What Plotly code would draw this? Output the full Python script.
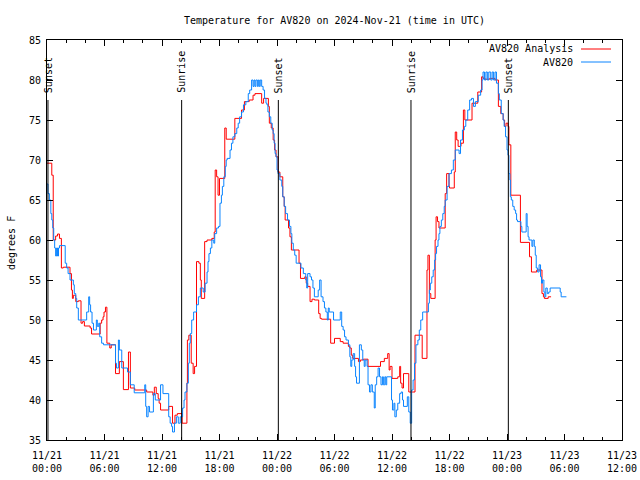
import pandas as pd
import plotly.graph_objects as go

# ---------------- data ----------------
BASE = pd.Timestamp("2024-11-21 00:00")

obs_hours = [0.0, 0.1, 0.25, 0.4, 0.5, 0.6, 0.7, 0.8, 0.9, 1.0, 1.1, 1.2, 1.3, 1.9, 2.05, 2.2, 2.4, 2.75, 2.85, 3.0,
             3.1, 3.27, 4.14, 4.35, 4.45, 4.55, 4.7, 4.85, 5.15, 5.25, 5.4, 5.5, 5.7, 5.9, 7.15, 7.25, 7.45, 7.55, 7.8, 8.4,
             8.7, 9.1, 10.2, 10.3, 10.4, 10.55, 10.7, 11.1, 11.3, 11.85, 12.1, 12.7, 12.85, 13.0, 13.1, 13.3, 13.5, 13.7, 13.9, 14.15,
             14.3, 14.4, 14.6, 14.75, 14.85, 14.95, 15.1, 15.3, 15.6, 15.8, 16.0, 16.3, 16.5, 16.7, 16.8, 16.9, 17.05, 17.2, 17.4, 17.5,
             17.7, 17.9, 18.05, 18.2, 18.3, 18.45, 18.6, 18.7, 18.8, 19.1, 19.25, 19.4, 19.6, 19.8, 19.95, 20.1, 20.3, 20.5, 20.75, 21.0,
             21.15, 21.35, 21.5, 21.6, 21.7, 21.8, 21.95, 22.05, 22.15, 22.25, 22.4, 22.55, 22.7, 22.85, 22.95, 23.05, 23.2, 23.35, 23.5, 23.6,
             23.7, 23.8, 23.9, 24.0, 24.1, 24.3, 24.5, 24.6, 24.75, 24.9, 25.1, 25.3, 25.45, 25.55, 25.7, 25.85, 26.0, 26.5, 26.75, 27.0,
             27.1, 27.2, 27.45, 27.6, 27.75, 27.9, 28.3, 28.45, 28.6, 28.8, 28.95, 29.1, 29.25, 29.35, 29.45, 29.9, 30.6, 30.75, 30.9, 31.05,
             31.2, 31.45, 31.6, 31.7, 31.8, 31.95, 32.1, 32.2, 32.3, 32.6, 32.8, 32.95, 33.1, 33.2, 33.4, 33.5, 33.65, 33.8, 33.95, 34.15,
             34.25, 34.4, 34.55, 34.7, 34.85, 35.0, 35.1, 35.25, 35.35, 35.45, 35.95, 36.05, 36.2, 36.3, 36.45, 36.6, 36.8, 36.95, 37.1, 37.2,
             37.6, 37.75, 37.9, 38.05, 38.2, 38.35, 38.5, 38.7, 38.85, 39.0, 39.2, 39.8, 39.9, 40.0, 40.15, 40.3, 40.45, 40.55, 40.65, 40.8,
             40.9, 41.0, 41.15, 41.3, 41.45, 41.55, 41.75, 41.95, 42.2, 42.4, 42.6, 43.0, 43.15, 43.35, 43.55, 43.7, 43.9, 44.1, 44.3, 44.5,
             44.7, 45.0, 45.25, 45.4, 45.5, 45.65, 45.8, 45.95, 46.1, 46.3, 46.45, 46.6, 46.75, 46.9, 47.1, 47.2, 47.4, 47.6, 47.7, 47.85,
             48.0, 48.1, 48.2, 48.3, 48.35, 48.45, 48.6, 48.75, 48.9, 49.0, 49.1, 49.45, 49.55, 50.0, 50.1, 50.2, 50.3, 50.6, 50.7, 50.85,
             50.95, 51.05, 51.2, 51.35, 51.5, 51.6, 51.7, 51.85, 51.95, 52.05, 52.2, 52.35, 52.5, 53.55, 53.65, 54.2]
obs_temps = [67.0, 65.8, 65.0, 63.3, 62.5, 61.5, 60.0, 59.0, 58.0, 59.0, 58.0, 59.0, 59.3, 57.1, 56.5, 55.8, 55.0, 54.4, 53.3, 52.7,
             51.5, 50.0, 51.0, 52.9, 51.9, 51.0, 49.6, 48.75, 50.0, 49.2, 49.6, 47.9, 47.1, 46.9, 44.6, 44.0, 47.5, 46.25, 44.0, 43.5,
             41.9, 40.9, 41.9, 39.2, 37.9, 39.2, 38.5, 40.8, 40.0, 41.9, 40.8, 37.9, 37.1, 36.7, 36.0, 37.1, 37.9, 37.1, 37.9, 39.0,
             40.0, 41.0, 42.1, 44.6, 47.1, 48.3, 50.0, 51.0, 51.9, 52.9, 54.0, 53.5, 54.6, 56.0, 57.3, 58.3, 59.0, 60.0, 59.6, 60.8,
             61.5, 61.7, 64.6, 65.6, 66.7, 67.9, 69.2, 70.0, 70.2, 71.25, 72.1, 72.9, 73.3, 74.0, 74.6, 75.4, 76.0, 76.9, 77.3, 78.3,
             78.75, 80.0, 79.2, 80.0, 79.2, 80.0, 79.2, 80.0, 79.2, 80.0, 79.2, 78.75, 77.7, 77.1, 76.9, 76.0, 75.4, 74.6, 73.75, 73.3,
             72.1, 70.8, 70.4, 68.75, 68.3, 67.5, 66.7, 65.4, 64.2, 63.3, 62.5, 61.7, 60.8, 59.6, 58.75, 58.1, 57.1, 56.5, 55.8, 55.0,
             54.0, 55.8, 55.4, 55.0, 54.0, 52.9, 53.75, 55.0, 52.9, 52.3, 51.5, 51.0, 50.0, 51.5, 51.0, 50.0, 51.0, 49.2, 48.75, 47.9,
             47.5, 46.9, 45.4, 44.2, 45.0, 45.8, 44.2, 42.9, 42.1, 46.9, 46.25, 45.0, 44.2, 45.0, 44.2, 41.9, 41.0, 41.9, 41.0, 39.0,
             41.9, 42.9, 44.0, 42.9, 41.9, 42.9, 41.9, 42.9, 41.9, 42.9, 40.0, 38.75, 39.6, 37.9, 38.75, 39.6, 40.8, 41.0, 40.0, 39.2,
             40.4, 38.5, 37.1, 41.25, 42.5, 44.6, 46.9, 47.5, 48.75, 50.0, 51.0, 52.1, 53.75, 54.6, 55.4, 56.25, 57.5, 58.3, 59.2, 60.0,
             60.8, 61.7, 62.5, 63.3, 64.2, 65.0, 66.7, 68.3, 68.75, 70.0, 71.25, 70.8, 72.5, 73.75, 74.2, 75.0, 76.25, 77.5, 77.7, 76.7,
             77.3, 78.1, 78.75, 80.0, 81.0, 80.0, 81.0, 80.0, 81.0, 80.0, 81.0, 80.0, 81.0, 79.6, 78.3, 77.5, 75.8, 75.0, 74.2, 72.9,
             71.25, 70.6, 68.3, 67.5, 65.4, 65.0, 64.2, 63.75, 63.3, 62.5, 62.3, 61.7, 61.0, 63.3, 61.7, 60.4, 60.0, 59.2, 60.0, 59.2,
             58.1, 56.5, 56.0, 56.9, 55.4, 54.6, 55.0, 53.5, 52.9, 54.0, 53.3, 53.5, 54.0, 53.5, 52.9, 52.9]

ana_hours = [0.0, 0.5, 0.65, 0.9, 1.1, 1.3, 1.5, 1.7, 2.4, 2.55, 2.65, 2.75, 3.0, 3.27, 3.55, 3.72, 3.9, 4.5, 4.65, 5.55,
             5.7, 5.85, 5.95, 6.1, 6.25, 6.55, 6.7, 7.15, 7.55, 7.97, 8.5, 8.7, 9.15, 10.4, 11.05, 11.2, 11.4, 11.6, 11.7, 11.85,
             12.7, 13.1, 13.35, 13.6, 14.1, 14.6, 14.65, 14.8, 15.05, 15.25, 15.4, 15.6, 15.85, 16.0, 16.1, 16.45, 16.7, 17.2, 17.45, 17.55,
             17.7, 17.85, 18.0, 18.55, 18.7, 19.6, 20.3, 20.6, 21.1, 21.5, 21.7, 22.4, 22.6, 23.1, 23.2, 23.4, 23.6, 23.75, 23.9, 24.1,
             24.3, 24.6, 24.75, 24.85, 25.2, 25.35, 25.5, 26.3, 26.45, 26.9, 27.05, 27.2, 27.45, 27.65, 27.9, 28.35, 28.5, 28.65, 29.6, 30.0,
             30.6, 30.9, 31.45, 31.6, 31.75, 31.9, 32.5, 32.7, 33.0, 33.5, 34.8, 35.2, 35.55, 35.7, 35.8, 36.0, 36.6, 36.8, 36.9, 37.05,
             37.2, 37.75, 38.4, 39.15, 39.65, 39.75, 39.9, 40.05, 40.5, 40.6, 40.75, 40.9, 41.55, 41.7, 41.95, 42.0, 42.5, 42.6, 42.75, 42.9,
             43.2, 43.45, 43.6, 44.35, 44.95, 45.35, 45.5, 45.7, 46.2, 46.75, 47.1, 47.35, 47.6, 47.75, 47.9, 48.1, 48.2, 48.4, 49.4, 50.35,
             50.55, 51.1, 51.65, 51.8, 51.9, 52.3, 52.6]
ana_temps = [69.6, 68.1, 60.0, 60.5, 60.75, 60.2, 56.5, 56.6, 55.8, 53.75, 52.7, 53.1, 52.3, 52.4, 49.6, 49.8, 49.25, 49.0, 48.25, 49.6,
             50.0, 50.4, 51.0, 51.6, 47.1, 46.5, 46.9, 43.3, 44.8, 41.3, 46.0, 41.5, 41.25, 41.0, 40.6, 41.6, 40.8, 40.2, 39.6, 38.75,
             39.2, 37.1, 38.1, 38.3, 37.1, 42.1, 47.5, 48.1, 44.6, 43.3, 44.2, 57.3, 57.1, 55.0, 52.7, 59.8, 60.0, 60.2, 61.0, 68.75,
             67.9, 65.6, 67.7, 74.0, 72.6, 75.2, 76.25, 77.3, 77.5, 78.1, 78.3, 77.1, 77.7, 76.7, 74.6, 74.0, 72.5, 71.25, 70.4, 68.5,
             67.9, 65.4, 64.2, 62.5, 61.5, 60.4, 58.75, 57.1, 55.2, 55.4, 54.6, 54.2, 52.3, 52.6, 52.5, 50.8, 50.2, 50.1, 47.1, 47.7,
             47.3, 47.1, 46.7, 46.5, 45.6, 45.2, 44.8, 45.0, 45.1, 44.2, 44.8, 45.2, 45.8, 43.75, 44.2, 42.7, 42.9, 44.2, 42.1, 41.5,
             43.3, 41.0, 48.1, 45.2, 56.25, 58.1, 53.3, 52.7, 60.0, 62.9, 62.3, 61.5, 65.8, 68.3, 66.7, 66.5, 68.5, 73.5, 72.5, 71.7,
             72.1, 76.25, 75.0, 77.1, 78.5, 80.4, 80.2, 80.1, 80.2, 80.0, 76.7, 75.8, 75.0, 74.2, 74.6, 74.2, 71.9, 65.6, 59.7, 57.9,
             56.0, 56.25, 53.3, 52.9, 52.7, 52.9, 52.9]

sun_hours = [0.1, 14.05, 24.14, 37.98, 48.14]
sun_labels = ["Sunset", "Sunrise", "Sunset", "Sunrise", "Sunset"]

tick_hours = [0, 6, 12, 18, 24, 30, 36, 42, 48, 54, 60]
tick_labels = ["11/21<br>00:00", "11/21<br>06:00", "11/21<br>12:00", "11/21<br>18:00",
               "11/22<br>00:00", "11/22<br>06:00", "11/22<br>12:00", "11/22<br>18:00",
               "11/23<br>00:00", "11/23<br>06:00", "11/23<br>12:00"]
y_ticks = [35, 40, 45, 50, 55, 60, 65, 70, 75, 80, 85]

series_names = ["AV820 Analysis", "AV820"]
series_colors = ["#ff0000", "#0a84ff"]


def to_time(hours):
    return [BASE + pd.Timedelta(hours=h) for h in hours]


FONT = "DejaVu Sans Mono"

fig = go.Figure()
fig.add_trace(go.Scatter(x=to_time(ana_hours), y=ana_temps, mode="lines", name=series_names[0],
                         line=dict(color=series_colors[0], width=1, shape="hv")))
fig.add_trace(go.Scatter(x=to_time(obs_hours), y=obs_temps, mode="lines", name=series_names[1],
                         line=dict(color=series_colors[1], width=1, shape="hv")))

shapes = []
annotations = []
for h, lab in zip(sun_hours, sun_labels):
    t = BASE + pd.Timedelta(hours=h)
    shapes.append(dict(type="line", xref="x", yref="y", x0=t, x1=t, y0=35, y1=77.5,
                       line=dict(color="black", width=1)))
    annotations.append(dict(x=t, y=78.1, xref="x", yref="y", text=lab, showarrow=False,
                            textangle=-90, xanchor="center", yanchor="bottom",
                            font=dict(family=FONT, size=10, color="black")))

W, H = 640, 480
# plot area in pixel coordinates
L, R, T, B = 47, 622, 40, 440


def px(xp):
    return (xp - L) / (R - L)


def py(yp):
    return (B - yp) / (B - T)


for i, (nm, col) in enumerate(zip(series_names, series_colors)):
    yy = 49 + 13 * i
    annotations.append(dict(x=px(575), y=py(yy), xref="paper", yref="paper", text=nm,
                            showarrow=False, xanchor="right", yanchor="middle",
                            font=dict(family=FONT, size=10, color="black")))
    shapes.append(dict(type="line", xref="paper", yref="paper", x0=px(581), x1=px(611),
                       y0=py(yy), y1=py(yy), line=dict(color=col, width=1)))

annotations.append(dict(x=px(11), y=py(243), xref="paper", yref="paper", text="degrees F",
                        showarrow=False, textangle=-90, xanchor="center", yanchor="middle",
                        font=dict(family=FONT, size=10, color="black")))

fig.update_layout(
    width=W, height=H,
    margin=dict(l=L, r=W - R, t=T, b=H - B, pad=0, autoexpand=False),
    paper_bgcolor="white", plot_bgcolor="white",
    showlegend=False,
    title=dict(text="Temperature for AV820 on 2024-Nov-21 (time in UTC)",
               x=(L + R) / 2 / W, xanchor="center",
               y=1 - 20 / H, yanchor="middle",
               automargin=False,
               font=dict(family=FONT, size=10, color="black")),
    shapes=shapes, annotations=annotations,
    font=dict(family=FONT, size=10, color="black"),
)

fig.update_xaxes(
    type="date", automargin=False,
    range=[BASE, BASE + pd.Timedelta(hours=60)],
    tickmode="array", tickvals=to_time(tick_hours), ticktext=tick_labels,
    ticks="inside", ticklen=6, tickcolor="black", tickwidth=1,
    ticklabelstandoff=6,
    minor=dict(dtick=2 * 3600 * 1000, tick0=BASE, ticks="inside", ticklen=3,
               tickcolor="black", tickwidth=1, showgrid=False),
    showline=True, linecolor="black", linewidth=1, mirror="allticks",
    showgrid=False, zeroline=False,
    tickfont=dict(family=FONT, size=10, color="black"),
)
fig.update_yaxes(
    range=[35, 85], tickmode="array", tickvals=y_ticks, automargin=False,
    ticks="inside", ticklen=6, tickcolor="black", tickwidth=1,
    ticklabelstandoff=3,
    showline=True, linecolor="black", linewidth=1, mirror="allticks",
    showgrid=False, zeroline=False,
    tickfont=dict(family=FONT, size=10, color="black"),
)

# remove the browser's default 8px page margin so the figure fills the window
fig.write_html("out.html",
               config={"displayModeBar": False, "staticPlot": True},
               post_script="document.body.style.margin='0';document.body.style.overflow='hidden';")
